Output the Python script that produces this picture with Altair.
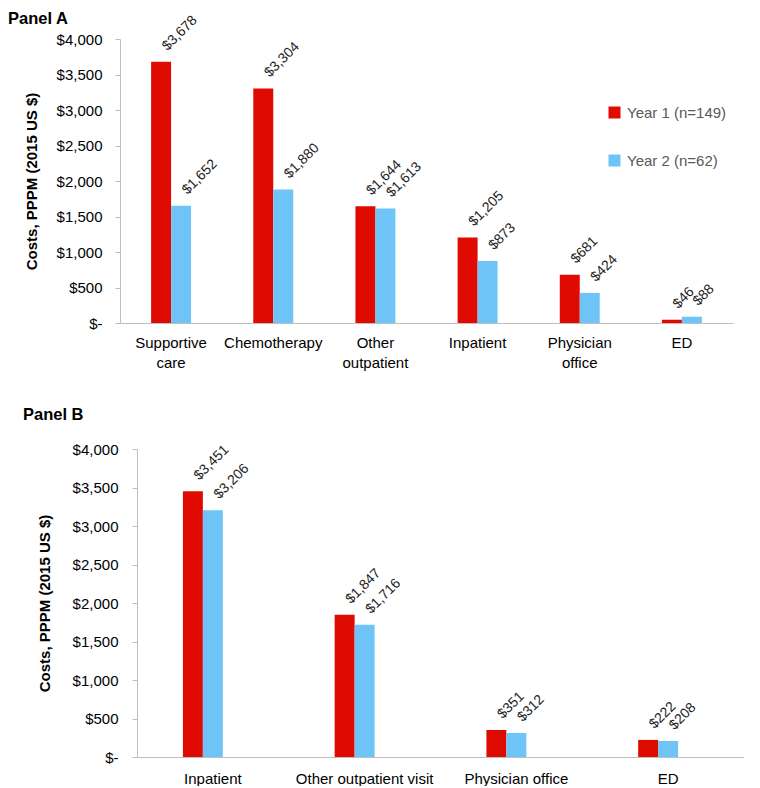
import altair as alt
import pandas as pd

FONT = "Liberation Sans"
GRAY = "#bfbfbf"

series = ["Year 1 (n=149)", "Year 2 (n=62)"]
colors = ["#e00b00", "#6ec4f7"]

a_categories = ["Supportive care", "Chemotherapy", "Other outpatient", "Inpatient", "Physician office", "ED"]
a_year1 = [3678, 3304, 1644, 1205, 681, 46]
a_year2 = [1652, 1880, 1613, 873, 424, 88]

b_categories = ["Inpatient", "Other outpatient visit", "Physician office", "ED"]
b_year1 = [3451, 1847, 351, 222]
b_year2 = [3206, 1716, 312, 208]

y_ticks = [0, 500, 1000, 1500, 2000, 2500, 3000, 3500, 4000]
y_title = "Costs, PPPM (2015 US $)"


def to_long(cats, y1, y2):
    rows = []
    for c, v1, v2 in zip(cats, y1, y2):
        rows.append({"category": c, "series": series[0], "cost": v1, "label": f"${v1:,}"})
        rows.append({"category": c, "series": series[1], "cost": v2, "label": f"${v2:,}"})
    return pd.DataFrame(rows)


def panel(df, cats, title, title_dx, title_offset, width, height, pad_inner,
          label_expr, legend_x, legend_y, label_pad, title_pad, x_label_pad,
          range_start=None, axis_offset=0):
    xscale = dict(paddingInner=pad_inner, paddingOuter=pad_inner / 2)
    if range_start is not None:
        xscale["range"] = [range_start, width]
    xaxis = dict(labelAngle=0, ticks=False, domainColor=GRAY, labelFontSize=15,
                 labelColor="#000", labelPadding=x_label_pad, labelLineHeight=20)
    if label_expr:
        xaxis["labelExpr"] = label_expr
    x = alt.X("category:N", sort=cats, title=None, scale=alt.Scale(**xscale),
              axis=alt.Axis(**xaxis))
    xo = alt.XOffset("series:N", sort=series, scale=alt.Scale(paddingInner=0, paddingOuter=0))
    y = alt.Y("cost:Q", scale=alt.Scale(domain=[0, 4000], nice=False),
              axis=alt.Axis(values=y_ticks,
                            labelExpr="datum.value == 0 ? '$-\u2007' : '$' + format(datum.value, ',')",
                            title=y_title, titleFontSize=15, titleFontWeight="bold",
                            titleColor="#000", titlePadding=title_pad, grid=False,
                            domainColor=GRAY, tickColor=GRAY, tickSize=5,
                            labelFontSize=15, labelPadding=label_pad, labelColor="#000",
                            offset=axis_offset))
    color = alt.Color("series:N", sort=series,
                      scale=alt.Scale(domain=series, range=colors),
                      legend=alt.Legend(title=None, orient="none", legendX=legend_x,
                                        legendY=legend_y, symbolType="square",
                                        symbolSize=144, symbolStrokeWidth=0,
                                        labelFontSize=15, labelColor="#595959",
                                        rowPadding=32, labelOffset=5, padding=0))
    base = alt.Chart(df)
    bars = base.mark_bar().encode(x=x, xOffset=xo, y=y, color=color)
    text = base.mark_text(angle=315, align="left", baseline="alphabetic", dx=12, dy=-3,
                          fontSize=14, color="#222").encode(x=x, xOffset=xo, y=y, text="label:N")
    return alt.layer(bars, text).properties(
        width=width, height=height,
        title=alt.TitleParams(title, anchor="start", frame="group", dx=title_dx,
                              offset=title_offset, fontSize=16.5, fontWeight="bold",
                              color="#000"))


df_a = to_long(a_categories, a_year1, a_year2)
df_b = to_long(b_categories, b_year1, b_year2)

panel_a = panel(df_a, a_categories, "Panel A", -112, -14, 613, 284, 0.609,
                "split(datum.label, ' ')", 487, 66, 13, 17, 12)
panel_b = panel(df_b, b_categories, "Panel B", -97, 19, 624, 308, 0.605,
                None, 522, 6, 14, 20, 14, range_start=17, axis_offset=-17)

chart = alt.vconcat(panel_a, panel_b, spacing=36).properties(
    padding={"top": 2, "left": 0, "right": 0, "bottom": 0}
).configure_view(
    stroke=None
).configure_axis(labelFont=FONT, titleFont=FONT).configure_legend(
    labelFont=FONT
).configure_title(font=FONT).configure_text(font=FONT)

chart.save("out.html", embed_options={"renderer": "svg", "actions": False})
